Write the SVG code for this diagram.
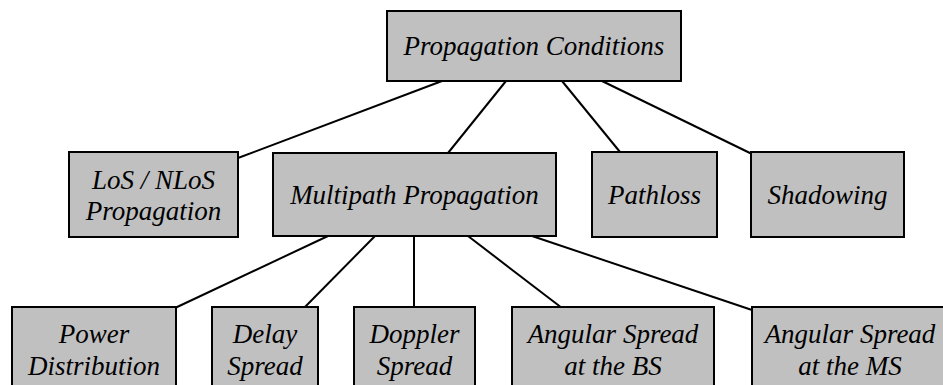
<svg xmlns="http://www.w3.org/2000/svg" width="943" height="385" viewBox="0 0 943 385">
  <style>
    .box { fill: #c0c0c0; stroke: #000; stroke-width: 2; }
    .lbl { font-family: "Liberation Serif", "Times New Roman", serif; font-style: italic; font-size: 27px; fill: #000; text-anchor: middle; }
    .link { stroke: #000; stroke-width: 2; fill: none; }
  </style>
  <rect width="943" height="385" fill="#fff"/>

  <g id="connectors">
    <line class="link" x1="442" y1="81" x2="238" y2="158"/>
    <line class="link" x1="506" y1="81" x2="448" y2="153"/>
    <line class="link" x1="562" y1="81" x2="620" y2="152"/>
    <line class="link" x1="602" y1="81" x2="752" y2="154"/>
    <line class="link" x1="328" y1="236" x2="175" y2="308"/>
    <line class="link" x1="375" y1="236" x2="304" y2="308"/>
    <line class="link" x1="414" y1="236" x2="414" y2="308"/>
    <line class="link" x1="468" y1="236" x2="562" y2="308"/>
    <line class="link" x1="532" y1="236" x2="752" y2="310"/>
  </g>

  <g id="propagation-conditions">
    <rect class="box" x="387" y="11" width="294" height="70"/>
    <text class="lbl" x="534" y="55">Propagation Conditions</text>
  </g>

  <g id="los-nlos">
    <rect class="box" x="69" y="152" width="169" height="85"/>
    <text class="lbl" x="153.5" y="189">LoS / NLoS</text>
    <text class="lbl" x="153.5" y="220">Propagation</text>
  </g>

  <g id="multipath">
    <rect class="box" x="273" y="153" width="283" height="83"/>
    <text class="lbl" x="414.5" y="204">Multipath Propagation</text>
  </g>

  <g id="pathloss">
    <rect class="box" x="592" y="152" width="125" height="85"/>
    <text class="lbl" x="654.5" y="204">Pathloss</text>
  </g>

  <g id="shadowing">
    <rect class="box" x="751" y="152" width="153" height="85"/>
    <text class="lbl" x="827.5" y="204">Shadowing</text>
  </g>

  <g id="power-distribution">
    <rect class="box" x="12" y="307" width="164" height="100"/>
    <text class="lbl" x="94" y="343">Power</text>
    <text class="lbl" x="94" y="375">Distribution</text>
  </g>

  <g id="delay-spread">
    <rect class="box" x="212" y="307" width="106" height="100"/>
    <text class="lbl" x="265" y="343">Delay</text>
    <text class="lbl" x="265" y="375">Spread</text>
  </g>

  <g id="doppler-spread">
    <rect class="box" x="354" y="307" width="121" height="100"/>
    <text class="lbl" x="414.5" y="343">Doppler</text>
    <text class="lbl" x="414.5" y="375">Spread</text>
  </g>

  <g id="angular-bs">
    <rect class="box" x="512" y="307" width="202" height="100"/>
    <text class="lbl" x="613" y="343">Angular Spread</text>
    <text class="lbl" x="613" y="375">at the BS</text>
  </g>

  <g id="angular-ms">
    <rect class="box" x="752" y="307" width="210" height="100"/>
    <text class="lbl" x="850" y="343">Angular Spread</text>
    <text class="lbl" x="850" y="375">at the MS</text>
  </g>
</svg>
